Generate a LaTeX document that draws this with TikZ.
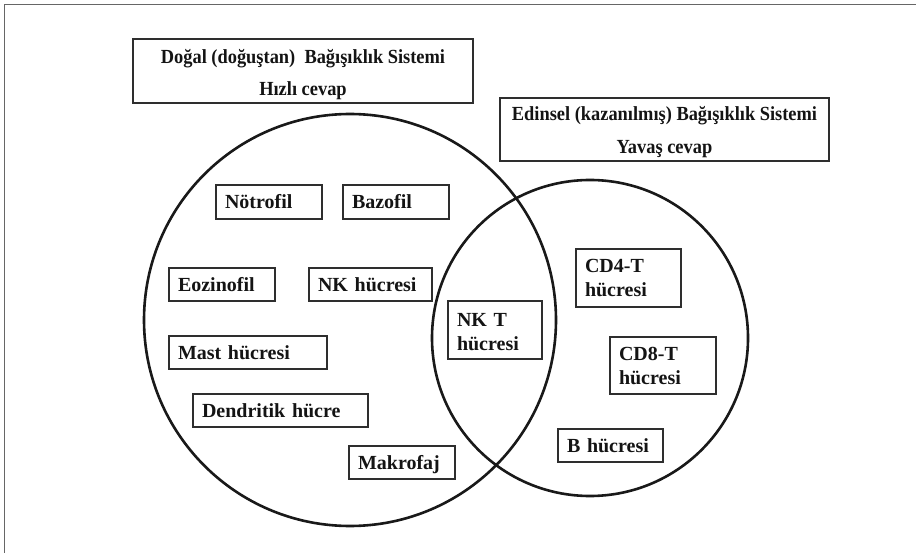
\documentclass[tikz,border=0pt]{standalone}
\usepackage{fontspec}
\setmainfont{Liberation Serif}
\newfontfamily\headingfont{Liberation Serif}[FakeStretch=0.92]
\begin{document}
\begin{tikzpicture}[x=1pt, y=-1pt,
  frame/.style={draw=black!60, line width=1.4pt},
  setring/.style={circle, draw=black!90, line width=2.6pt, inner sep=0pt},
  headbox/.style={draw=black!82, line width=2.2pt, inner sep=0pt},
  headtext/.style={anchor=base, inner sep=0pt, text=black!92,
    font=\headingfont\fontsize{20}{24}\selectfont\bfseries},
  cellbox/.style={draw=black!82, line width=2pt, anchor=north west,
    inner xsep=9pt, inner ysep=0pt, align=left, text=black!92,
    font=\fontsize{20}{24}\selectfont\bfseries},
  oneline/.style={cellbox, text height=14pt, text depth=0pt},
]
\useasboundingbox (0,0) rectangle (916,553);
\fill[white] (0,0) rectangle (916,553);

% page frame (only its top and left edges fall inside the page)
\draw[frame] (4.5,553) -- (4.5,4.5) -- (916,4.5);

% the two overlapping sets
\node[setring, minimum size=412] (innateset) at (350,320) {};
\node[setring, minimum size=316] (adaptiveset) at (590,338) {};

% headings
\node[headbox, minimum width=340, minimum height=64] (innatehead) at (303,71) {};
\node[headtext] (innatetitle) at (303,64) {Doğal (doğuştan)\ \ Bağışıklık Sistemi};
\node[headtext] (innatespeed) at (303,96) {Hızlı cevap};

\node[headbox, minimum width=329, minimum height=63] (adaptivehead) at (664.5,129.5) {};
\node[headtext] (adaptivetitle) at (664.5,121) {Edinsel (kazanılmış) Bağışıklık Sistemi};
\node[headtext] (adaptivespeed) at (664.5,154) {Yavaş cevap};

% innate cells
\node[oneline, text width=88, minimum height=34] (notrofil) at (215,184) {Nötrofil};
\node[oneline, text width=88, minimum height=34] (bazofil) at (342,184) {Bazofil};
\node[oneline, text width=88, minimum height=33] (eozinofil) at (168,267) {Eozinofil};
\node[oneline, text width=105, minimum height=33] (nk) at (308,267) {NK hücresi};
\node[oneline, text width=140, minimum height=33] (mast) at (168,335) {Mast hücresi};
\node[oneline, text width=157, minimum height=33] (dendritik) at (192,393) {Dendritik hücre};
\node[oneline, text width=88, minimum height=33] (makrofaj) at (348,445) {Makrofaj};

% shared cell
\node[cellbox, text width=76, minimum height=58] (nkt) at (447,300) {\rule{0pt}{17pt}NK T\\hücresi};

% adaptive cells
\node[cellbox, text width=87, minimum height=58] (cdfour) at (575,248) {CD4-T\\hücresi};
\node[cellbox, text width=88, minimum height=57] (cdeight) at (609,336) {CD8-T\\hücresi};
\node[oneline, text width=87, minimum height=33] (bcell) at (557,428) {B hücresi};
\end{tikzpicture}
\end{document}
